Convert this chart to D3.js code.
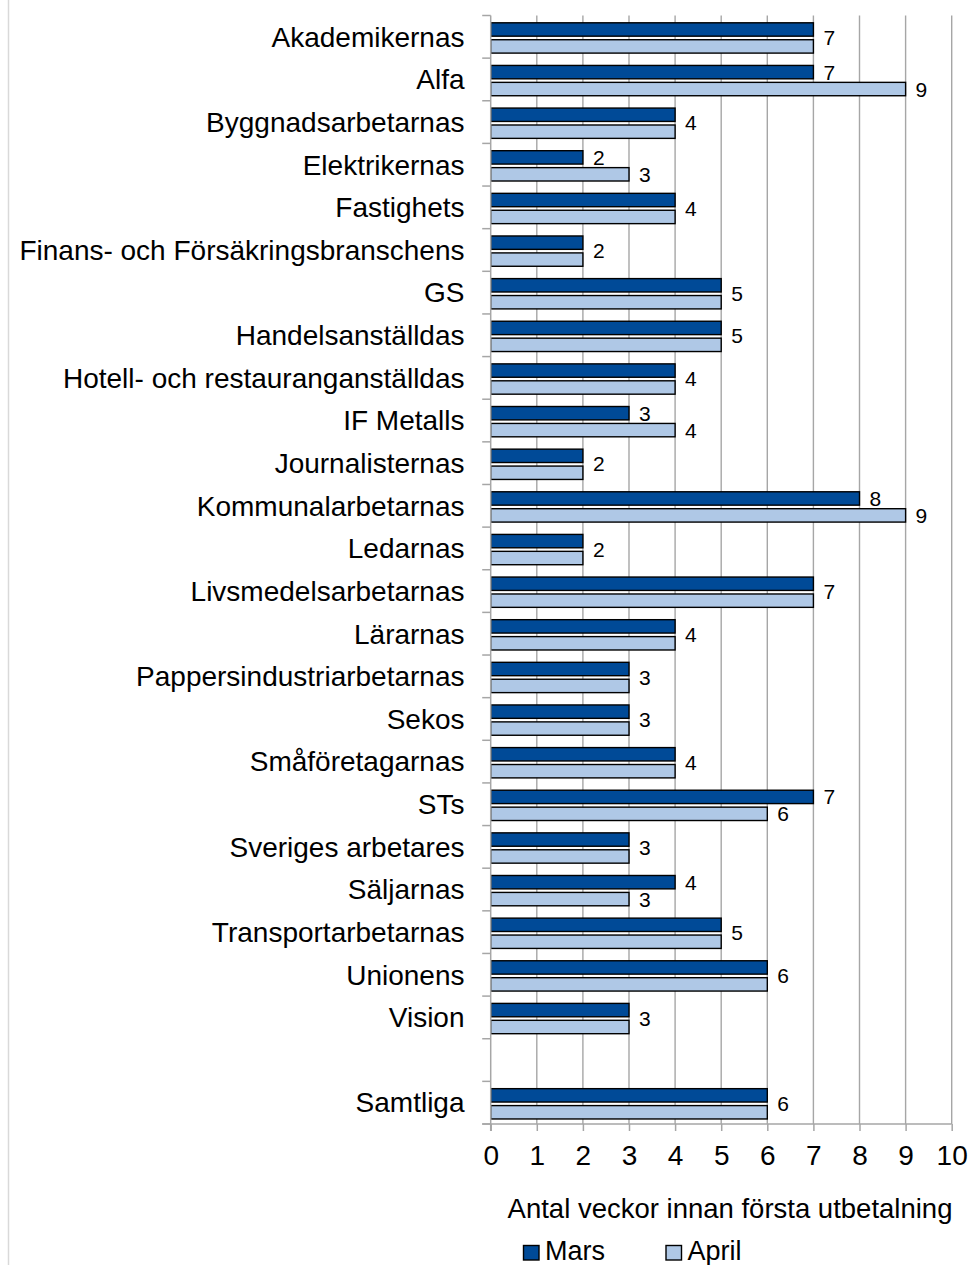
<!DOCTYPE html>
<html>
<head>
<meta charset="utf-8">
<script src="https://cdn.jsdelivr.net/npm/d3@7"></script>
<style>
  body { margin: 0; background: #fff; }
  text { font-family: "Liberation Sans", Arial, sans-serif; fill: #000; }
</style>
</head>
<body>
<div id="chart"></div>
<script>
'use strict'

const categories = [
  'Akademikernas', 'Alfa', 'Byggnadsarbetarnas', 'Elektrikernas', 'Fastighets',
  'Finans- och Försäkringsbranschens', 'GS', 'Handelsanställdas',
  'Hotell- och restauranganställdas', 'IF Metalls', 'Journalisternas',
  'Kommunalarbetarnas', 'Ledarnas', 'Livsmedelsarbetarnas', 'Lärarnas',
  'Pappersindustriarbetarnas', 'Sekos', 'Småföretagarnas', 'STs',
  'Sveriges arbetares', 'Säljarnas', 'Transportarbetarnas', 'Unionens',
  'Vision', '', 'Samtliga'
]
const mars = [7, 7, 4, 2, 4, 2, 5, 5, 4, 3, 2, 8, 2, 7, 4, 3, 3, 4, 7, 3, 4, 5, 6, 3, null, 6]
const april = [7, 9, 4, 3, 4, 2, 5, 5, 4, 4, 2, 9, 2, 7, 4, 3, 3, 4, 6, 3, 3, 5, 6, 3, null, 6]
const seriesNames = ['Mars', 'April']
const seriesValues = [mars, april]
const xTicks = [0, 1, 2, 3, 4, 5, 6, 7, 8, 9, 10]
const axisTitle = 'Antal veckor innan första utbetalning'

const chart_it = function(){
  const width = 970
  const height = 1265
  const colors = ['#004a97', '#afc8e6']
  const gridColor = '#a6a6a6'

  const svg = d3.select('#chart')
    .append('svg')
    .attr('width', width)
    .attr('height', height)

  // faint frame line at the left
  svg.append('line')
    .attr('x1', 8.5).attr('x2', 8.5)
    .attr('y1', 0).attr('y2', height)
    .attr('stroke', '#d9d9d9')
    .attr('stroke-width', 1.5)

  const x = d3.scaleLinear().domain([0, 10]).range([490.7, 951.7])
  // unique keys so the blank row still gets its own band
  const keys = categories.map((c, i) => i)
  const y = d3.scaleBand().domain(keys).range([15.5, 1124])
  const y1 = d3.scaleBand().domain(seriesNames)
    .range([7.3, 37.6]).paddingInner(0.21)

  // grid lines
  svg.append('g')
    .selectAll('line')
    .data(xTicks.slice(1))
    .enter()
    .append('line')
    .attr('x1', d => x(d)).attr('x2', d => x(d))
    .attr('y1', y.range()[0]).attr('y2', y.range()[1])
    .attr('stroke', gridColor)
    .attr('stroke-width', 1.4)

  // bars
  const rows = keys.map(i => ({
    i: i,
    label: categories[i],
    vals: seriesNames.map((s, k) => ({ s: s, k: k, v: seriesValues[k][i] }))
  }))

  const group = svg.append('g')
    .selectAll('g')
    .data(rows)
    .enter()
    .append('g')
    .attr('transform', d => 'translate(0,' + y(d.i) + ')')

  group.selectAll('rect')
    .data(d => d.vals.filter(v => v.v != null))
    .enter()
    .append('rect')
    .attr('x', x(0))
    .attr('y', d => y1(d.s))
    .attr('width', d => x(d.v) - x(0))
    .attr('height', y1.bandwidth())
    .attr('fill', d => colors[d.k])
    .attr('stroke', '#000')
    .attr('stroke-width', 1.4)

  // data labels: one label in the middle when both months are equal
  group.each(function(d) {
    const g = d3.select(this)
    const m = d.vals[0].v
    const a = d.vals[1].v
    if (m == null) return
    const labs = (m === a)
      ? [{ v: m, cy: (y1('Mars') + y1('April') + y1.bandwidth()) / 2 - 0.5 }]
      : d.vals.map(v => ({ v: v.v, cy: y1(v.s) + y1.bandwidth() / 2 }))
    g.selectAll('text.val')
      .data(labs)
      .enter()
      .append('text')
      .attr('class', 'val')
      .attr('x', l => x(l.v) + 10)
      .attr('y', l => l.cy)
      .attr('dy', '0.36em')
      .attr('font-size', 21)
      .text(l => l.v)
  })

  // y axis
  const yAxis = svg.append('g')
  yAxis.append('line')
    .attr('x1', x(0)).attr('x2', x(0))
    .attr('y1', y.range()[0]).attr('y2', y.range()[1] + 7)
    .attr('stroke', gridColor).attr('stroke-width', 1.5)
  const bounds = keys.map(i => y(i)).concat([y.range()[1]])
  yAxis.selectAll('line.tick')
    .data(bounds)
    .enter()
    .append('line')
    .attr('class', 'tick')
    .attr('x1', x(0) - 8.5).attr('x2', x(0))
    .attr('y1', d => d).attr('y2', d => d)
    .attr('stroke', gridColor).attr('stroke-width', 1.5)
  yAxis.selectAll('text')
    .data(rows)
    .enter()
    .append('text')
    .attr('x', 464.5)
    .attr('y', d => y(d.i) + y.bandwidth() / 2)
    .attr('dy', '0.35em')
    .attr('text-anchor', 'end')
    .attr('font-size', 28)
    .text(d => d.label)

  // x axis
  const xAxis = d3.axisBottom(x)
    .tickValues(xTicks)
    .tickSize(7)
    .tickPadding(14)
    .tickFormat(d3.format('d'))
  const gx = svg.append('g')
    .attr('transform', 'translate(0,' + y.range()[1] + ')')
    .call(xAxis)
  gx.select('.domain')
    .attr('d', 'M' + (x(0) - 8.5) + ',0H' + x(10))
    .attr('stroke', gridColor).attr('stroke-width', 1.5)
  gx.selectAll('.tick line').attr('stroke', gridColor).attr('stroke-width', 1.5)
  gx.selectAll('.tick text')
    .attr('font-size', 28)
    .attr('font-family', '"Liberation Sans", Arial, sans-serif')
    .attr('fill', '#000')

  svg.append('text')
    .attr('x', 730)
    .attr('y', 1218)
    .attr('text-anchor', 'middle')
    .attr('font-size', 27.5)
    .text(axisTitle)

  // legend
  const legendX = [523.5, 666]
  const legend = svg.append('g')
    .selectAll('g')
    .data(seriesNames)
    .enter()
    .append('g')
    .attr('transform', (d, i) => 'translate(' + legendX[i] + ',1245.5)')
  legend.append('rect')
    .attr('width', 15.5).attr('height', 14.5)
    .attr('fill', (d, i) => colors[i])
    .attr('stroke', '#000')
    .attr('stroke-width', 1.4)
  legend.append('text')
    .attr('x', 21.5)
    .attr('y', 14.7)
    .attr('font-size', 27)
    .text(d => d)
}

chart_it()
</script>
</body>
</html>
